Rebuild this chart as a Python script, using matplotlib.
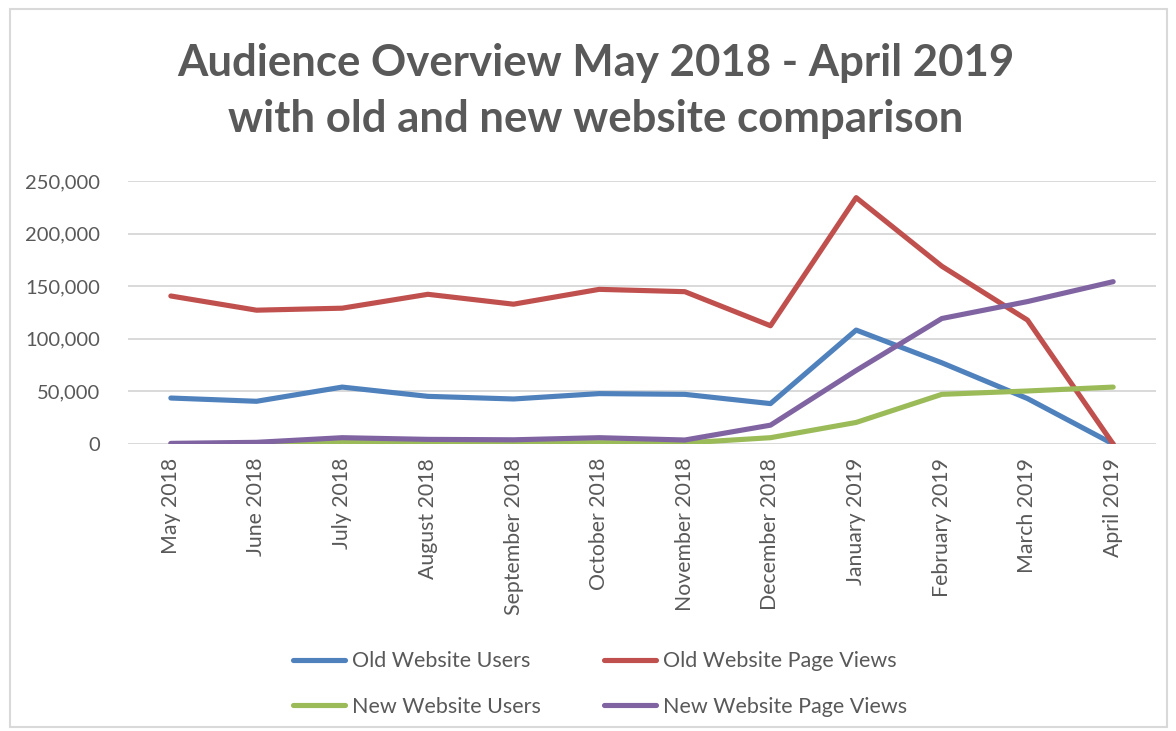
import matplotlib.pyplot as plt
from matplotlib.patches import Rectangle
from matplotlib.ticker import FuncFormatter

months = ["May 2018", "June 2018", "July 2018", "August 2018", "September 2018",
          "October 2018", "November 2018", "December 2018", "January 2019",
          "February 2019", "March 2019", "April 2019"]

old_users = [43700, 40600, 54100, 45300, 42800, 47900, 47200, 38400, 108300, 77200, 43200, 0]
old_views = [140700, 127200, 129100, 142300, 132900, 147000, 144800, 112400, 234200, 169000, 117800, 0]
new_users = [0, 300, 2500, 1500, 1200, 1300, 1000, 6000, 20500, 47200, 50400, 54100]
new_views = [600, 1600, 6000, 4400, 4000, 6000, 3800, 17900, 69900, 119300, 135400, 154300]

grey = "#595959"
plt.rcParams['font.family'] = ['Lato', 'DejaVu Sans']

fig = plt.figure(figsize=(11.76, 7.31), dpi=100)
W, H = 1176, 731

# light border around the chart area
fig.patches.append(Rectangle((10 / W, 1 - 727 / H), 1157 / W, 718 / H, transform=fig.transFigure,
                             fill=False, edgecolor="#D9D9D9", linewidth=1.5))

ax = fig.add_axes([128 / W, 1 - 444 / H, 1028 / W, (444 - 181) / H])

x = range(len(months))
series = [
    (old_users, "Old Website Users", "#4F81BD"),
    (old_views, "Old Website Page Views", "#C0504D"),
    (new_users, "New Website Users", "#9BBB59"),
    (new_views, "New Website Page Views", "#8064A2"),
]
lines = {}
for vals, name, col in series:
    ln, = ax.plot(x, vals, color=col, lw=3.7, solid_capstyle="round",
                  solid_joinstyle="round", label=name)
    lines[name] = ln

ax.set_xlim(-0.5, len(months) - 0.5)
ax.set_ylim(0, 250000)
ax.set_yticks(range(0, 250001, 50000))
ax.yaxis.set_major_formatter(FuncFormatter(lambda v, p: f"{int(v):,}"))
ax.grid(axis="y", color="#D9D9D9", lw=1.4)
ax.set_axisbelow(True)
for s in ax.spines.values():
    s.set_visible(False)
ax.tick_params(axis="both", length=0, colors=grey)
ax.tick_params(axis="y", pad=20, labelsize=14.5)
ax.tick_params(axis="x", pad=10)
ax.set_xticks(list(x))
ax.set_xticklabels(months, rotation=90, va="top", ha="center", fontsize=15.3)

fig.text(596 / W, 1 - 91 / H, "Audience Overview May 2018 - April 2019\nwith old and new website comparison",
         ha="center", va="center", fontsize=31.5, fontweight="bold", color=grey, linespacing=1.5)

order = ["Old Website Users", "New Website Users", "Old Website Page Views", "New Website Page Views"]
fig.legend([lines[n] for n in order], order, ncol=2, loc="center left",
           bbox_to_anchor=(293 / W, 1 - 684 / H), frameon=False, fontsize=15.5,
           labelcolor=grey, handlelength=2.4, handletextpad=0.33, columnspacing=2.95,
           labelspacing=1.2, borderpad=0, borderaxespad=0)

fig.savefig("out.png", dpi=100)
